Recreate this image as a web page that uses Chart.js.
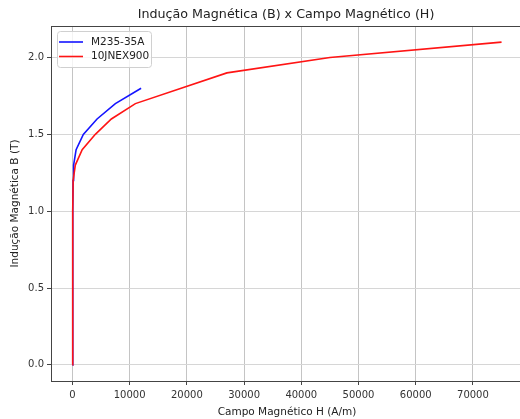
<!DOCTYPE html>
<html><head><meta charset="utf-8">
<script src="https://cdn.jsdelivr.net/npm/chart.js@4/dist/chart.umd.min.js"></script>
<style>html,body{margin:0;padding:0;background:#fff;overflow:hidden;width:520px;height:419px}
#wrap{position:relative;width:524px;height:419px}canvas{display:block}</style>
</head><body><div id="wrap"><canvas id="c" width="524" height="419" style="width:524px;height:419px"></canvas></div>
<script>
const titleText = 'Indução Magnética (B) x Campo Magnético (H)';
const xLabel = 'Campo Magnético H (A/m)';
const yLabel = 'Indução Magnética B (T)';
const seriesNames = ['M235-35A', '10JNEX900'];
const m235H = [0, 40, 70, 110, 200, 640, 1900, 4300, 7500, 12000];
const m235B = [0, 0.5, 1.0, 1.2, 1.3, 1.4, 1.5, 1.6, 1.7, 1.8];
const jnexH = [0, 30, 60, 120, 500, 1700, 4000, 6800, 11000, 27000, 45000, 75000];
const jnexB = [0, 0.5, 1.0, 1.2, 1.3, 1.4, 1.5, 1.6, 1.7, 1.9, 2.0, 2.1];
const xTicks = [0, 10000, 20000, 30000, 40000, 50000, 60000, 70000];
const yTicks = [0.0, 0.5, 1.0, 1.5, 2.0];

const FONT = 'DejaVu Sans';
const pts = (hs, bs) => hs.map((h, i) => ({x: h, y: bs[i]}));

const decor = {
  id: 'decor',
  afterDraw(chart) {
    const ctx = chart.ctx, a = chart.chartArea;
    ctx.save();
    // top spine
    ctx.strokeStyle = '#444'; ctx.lineWidth = 1;
    ctx.beginPath(); ctx.moveTo(a.left, a.top + 0.5); ctx.lineTo(a.right, a.top + 0.5); ctx.stroke();
    // title
    ctx.fillStyle = '#222'; ctx.font = '12.7px "' + FONT + '"';
    ctx.textAlign = 'center'; ctx.textBaseline = 'middle';
    ctx.fillText(titleText, (a.left + a.right) / 2 - 1, 15);
    // legend
    const lx = a.left + 6, ly = a.top + 5, lw = 94, lh = 36;
    ctx.fillStyle = 'rgba(255,255,255,0.8)';
    ctx.strokeStyle = '#d0d0d0';
    ctx.beginPath();
    if (ctx.roundRect) ctx.roundRect(lx + 0.5, ly + 0.5, lw, lh, 3); else ctx.rect(lx + 0.5, ly + 0.5, lw, lh);
    ctx.fill(); ctx.stroke();
    ctx.font = '10.5px "' + FONT + '"';
    ctx.textAlign = 'left';
    chart.data.datasets.forEach((ds, i) => {
      const yy = ly + 11 + i * 14.5;
      ctx.strokeStyle = ds.borderColor; ctx.lineWidth = 1.6;
      ctx.beginPath(); ctx.moveTo(lx + 2, yy); ctx.lineTo(lx + 26, yy); ctx.stroke();
      ctx.fillStyle = '#222';
      ctx.fillText(ds.label, lx + 34, yy);
    });
    ctx.restore();
  }
};

new Chart(document.getElementById('c'), {
  type: 'line',
  data: {
    datasets: [
      {label: seriesNames[0], data: pts(m235H, m235B), borderColor: '#1414ff', borderWidth: 1.6, pointRadius: 0, fill: false, tension: 0, order: 1},
      {label: seriesNames[1], data: pts(jnexH, jnexB), borderColor: '#ff1414', borderWidth: 1.6, pointRadius: 0, fill: false, tension: 0, order: 0}
    ]
  },
  options: {
    responsive: false,
    animation: false,
    devicePixelRatio: 1,
    layout: {padding: {top: 26, right: 1, left: 0, bottom: 0}},
    plugins: {legend: {display: false}, title: {display: false}, tooltip: {enabled: false}},
    scales: {
      x: {
        type: 'linear', min: -3750, max: 78750,
        afterBuildTicks: s => { s.ticks = xTicks.map(v => ({value: v})); },
        afterFit: s => { s.height = 38; },
        grid: {color: '#c4c4c4', lineWidth: 1, tickLength: 4, tickColor: '#444'},
        border: {color: '#444', width: 1},
        ticks: {font: {family: FONT, size: 10}, color: '#333', padding: 4, maxRotation: 0, autoSkip: false, callback: v => String(v)},
        title: {display: true, text: xLabel, font: {family: FONT, size: 10.5}, color: '#222', padding: {top: 1, bottom: 0}}
      },
      y: {
        type: 'linear', min: -0.105, max: 2.205,
        afterBuildTicks: s => { s.ticks = yTicks.map(v => ({value: v})); },
        afterFit: s => { s.width = 51; },
        grid: {color: '#d6d6d6', lineWidth: 1, tickLength: 4, tickColor: '#444'},
        border: {color: '#444', width: 1},
        ticks: {font: {family: FONT, size: 10}, color: '#333', padding: 3, autoSkip: false, callback: v => v.toFixed(1)},
        title: {display: true, text: yLabel, font: {family: FONT, size: 10.5}, color: '#222', padding: {top: 9, bottom: 4}}
      }
    }
  },
  plugins: [decor]
});
</script></body></html>
